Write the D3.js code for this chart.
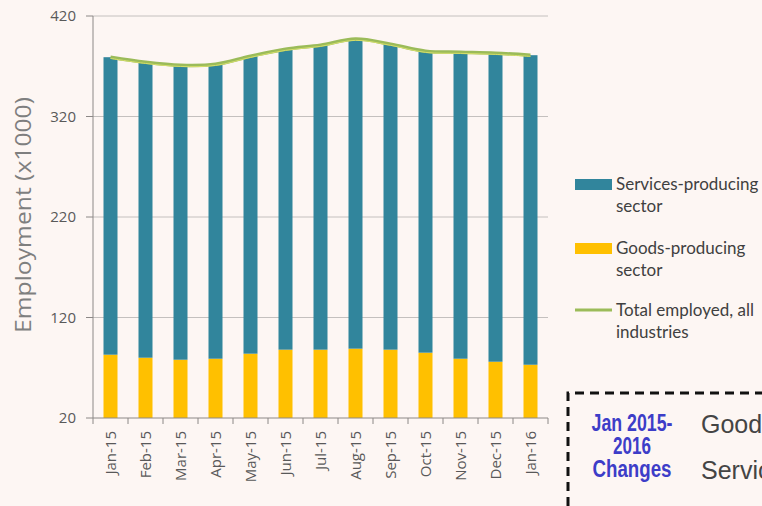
<!DOCTYPE html>
<html>
<head>
<meta charset="utf-8">
<script src="https://cdn.jsdelivr.net/npm/d3@7"></script>
<style>
  body { margin: 0; background: #fdf6f3; }
  svg { display: block; }
</style>
</head>
<body>
<svg width="762" height="506"></svg>
<script>
// Data (thousands)
var months = ["Jan-15", "Feb-15", "Mar-15", "Apr-15", "May-15", "Jun-15", "Jul-15",
              "Aug-15", "Sep-15", "Oct-15", "Nov-15", "Dec-15", "Jan-16"];
var goods = [83, 80, 78, 79, 84, 88, 88, 89, 88, 85, 79, 76, 73];
var services = [296, 294, 293, 293, 296, 299, 303, 308, 304, 300, 305, 307, 308];
var totals = [379, 374, 371, 372, 380, 387, 391, 397, 392, 385, 384, 383, 381];
var yTicks = [20, 120, 220, 320, 420];

var svg = d3.select("svg"),
  width = +svg.attr("width"),
  height = +svg.attr("height");

// plot box (note: "top" is taken by window.top)
var plotL = 93, plotR = 548, plotT = 16, plotB = 418;

var x = d3.scaleBand().domain(months).range([plotL, plotR])
  .paddingInner(0.6).paddingOuter(0.3);
var y = d3.scaleLinear().domain([20, 420]).range([plotB, plotT]);
var step = x.step();

svg.append("rect").attr("width", width).attr("height", height).attr("fill", "#fdf6f3");

// gridlines
svg.append("g").selectAll("line")
  .data(yTicks.slice(1))
  .enter().append("line")
  .attr("x1", plotL).attr("x2", plotR)
  .attr("y1", function(d) { return y(d); })
  .attr("y2", function(d) { return y(d); })
  .attr("stroke", "#c4c0be").attr("stroke-width", 1);

// bars, clipped at the axis floor like the original
svg.append("clipPath").attr("id", "plotClip")
  .append("rect").attr("x", plotL).attr("y", plotT).attr("width", plotR - plotL).attr("height", plotB - plotT);

var bars = svg.append("g").attr("clip-path", "url(#plotClip)");

bars.selectAll(".goods")
  .data(goods)
  .enter().append("rect")
  .attr("class", "goods")
  .attr("x", function(d, i) { return x(months[i]); })
  .attr("width", x.bandwidth())
  .attr("y", function(d) { return y(d); })
  .attr("height", function(d) { return y(0) - y(d); })
  .attr("fill", "#ffc000");

bars.selectAll(".services")
  .data(services)
  .enter().append("rect")
  .attr("class", "services")
  .attr("x", function(d, i) { return x(months[i]); })
  .attr("width", x.bandwidth())
  .attr("y", function(d, i) { return y(goods[i] + d); })
  .attr("height", function(d, i) { return y(goods[i]) - y(goods[i] + d); })
  .attr("fill", "#31859c");

// total line (smoothed)
var line = d3.line()
  .x(function(d, i) { return x(months[i]) + x.bandwidth() / 2; })
  .y(function(d) { return y(d); })
  .curve(d3.curveCatmullRom.alpha(0.5));

svg.append("path").datum(totals)
  .attr("d", line)
  .attr("fill", "none")
  .attr("stroke", "#9bbb59")
  .attr("stroke-width", 3.5);
svg.append("path").datum(totals)
  .attr("d", line)
  .attr("fill", "none")
  .attr("stroke", "#d4de6a")
  .attr("stroke-width", 1)
  .attr("transform", "translate(0,1.2)");

// axes
var axisColor = "#8c8886";
svg.append("line").attr("x1", plotL).attr("x2", plotL).attr("y1", plotT).attr("y2", plotB)
  .attr("stroke", axisColor);
svg.append("line").attr("x1", plotL).attr("x2", plotR).attr("y1", plotB).attr("y2", plotB)
  .attr("stroke", axisColor);

svg.append("g").selectAll("line")
  .data(yTicks)
  .enter().append("line")
  .attr("x1", plotL - 7).attr("x2", plotL)
  .attr("y1", function(d) { return y(d); })
  .attr("y2", function(d) { return y(d); })
  .attr("stroke", axisColor);

svg.append("g").selectAll("text")
  .data(yTicks)
  .enter().append("text")
  .attr("x", 76)
  .attr("y", function(d) { return y(d) + 5; })
  .attr("text-anchor", "end")
  .attr("font-family", "'Open Sans', sans-serif")
  .attr("font-size", "15px")
  .attr("fill", "#595959")
  .text(function(d) { return d; });

// x ticks at category boundaries
var bounds = months.map(function(m) { return x(m) + x.bandwidth() / 2 - step / 2; });
bounds.push(plotR);
svg.append("g").selectAll("line")
  .data(bounds)
  .enter().append("line")
  .attr("x1", function(d) { return d; }).attr("x2", function(d) { return d; })
  .attr("y1", plotB).attr("y2", plotB + 6)
  .attr("stroke", axisColor);

svg.append("g").selectAll("text")
  .data(months)
  .enter().append("text")
  .attr("transform", function(d) {
    return "translate(" + (x(d) + x.bandwidth() / 2 + 5) + "," + (plotB + 13) + ") rotate(-90)";
  })
  .attr("text-anchor", "end")
  .attr("font-family", "'Open Sans', sans-serif")
  .attr("font-size", "15px")
  .attr("fill", "#595959")
  .text(function(d) { return d; });

// y axis title
svg.append("text")
  .attr("transform", "translate(31,215) rotate(-90)")
  .attr("text-anchor", "middle")
  .attr("font-family", "'Open Sans', sans-serif")
  .attr("font-size", "21px")
  .attr("fill", "#7f7f7f")
  .attr("textLength", 236)
  .attr("lengthAdjust", "spacingAndGlyphs")
  .text("Employment (x1000)");

// legend
var legend = [
  { label: ["Services-producing", "sector"], color: "#31859c", kind: "rect", y: 184 },
  { label: ["Goods-producing", "sector"], color: "#ffc000", kind: "rect", y: 248 },
  { label: ["Total employed, all", "industries"], color: "#9bbb59", kind: "line", y: 310 }
];
var lg = svg.append("g").selectAll("g").data(legend).enter().append("g");
lg.each(function(d) {
  var g = d3.select(this);
  if (d.kind == "rect") {
    g.append("rect").attr("x", 575).attr("y", d.y - 5).attr("width", 37).attr("height", 11).attr("fill", d.color);
  } else {
    g.append("line").attr("x1", 575).attr("x2", 612).attr("y1", d.y).attr("y2", d.y)
      .attr("stroke", d.color).attr("stroke-width", 3);
  }
  g.selectAll("text").data(d.label).enter().append("text")
    .attr("x", 616)
    .attr("y", function(t, i) { return d.y + 6 + i * 22; })
    .attr("font-family", "Lato, sans-serif")
    .attr("font-size", "17px")
    .attr("fill", "#404040")
    .text(function(t) { return t; });
});

// dashed changes box (cut off by the frame)
svg.append("path")
  .attr("d", "M568,506 L568,393 L762,393")
  .attr("fill", "none")
  .attr("stroke", "#111")
  .attr("stroke-width", 3)
  .attr("stroke-dasharray", "9,6");

var boxTitle = ["Jan 2015-", "2016", "Changes"];
var boxTitleW = [81, 38, 79];
svg.append("g").selectAll("text")
  .data(boxTitle)
  .enter().append("text")
  .attr("x", 632)
  .attr("y", function(d, i) { return 431 + i * 23; })
  .attr("text-anchor", "middle")
  .attr("font-family", "'Liberation Sans', sans-serif")
  .attr("font-weight", "bold")
  .attr("font-size", "23px")
  .attr("fill", "#3d3dc8")
  .attr("textLength", function(d, i) { return boxTitleW[i]; })
  .attr("lengthAdjust", "spacingAndGlyphs")
  .text(function(d) { return d; });

var boxRows = ["Goods", "Services"];
svg.append("g").selectAll("text")
  .data(boxRows)
  .enter().append("text")
  .attr("x", 701)
  .attr("y", function(d, i) { return 433 + i * 46; })
  .attr("font-family", "'Liberation Sans', sans-serif")
  .attr("font-size", "25px")
  .attr("fill", "#444")
  .text(function(d) { return d; });
</script>
</body>
</html>
